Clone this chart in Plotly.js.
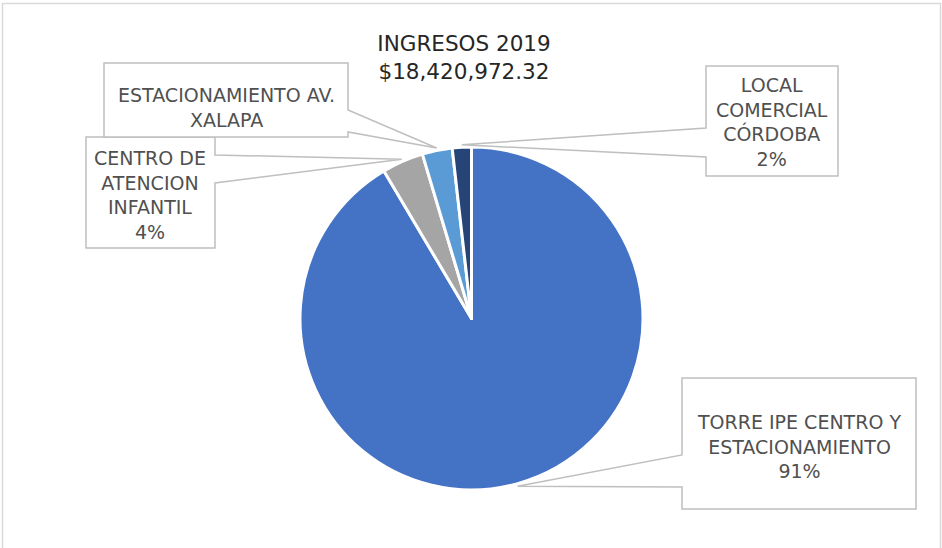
<!DOCTYPE html>
<html>
<head>
<meta charset="utf-8">
<script src="https://cdn.plot.ly/plotly-3.0.1.min.js"></script>
<style>html,body{margin:0;padding:0;background:#fff;}#chart{width:942px;height:548px;}</style>
</head>
<body>
<div id="chart"></div>
<script>
// ---- data ----
const categories = ["TORRE IPE CENTRO Y ESTACIONAMIENTO", "CENTRO DE ATENCION INFANTIL", "ESTACIONAMIENTO AV. XALAPA", "LOCAL COMERCIAL CÓRDOBA"];
const values = [16850000, 720000, 520000, 330972.32];
const labelLines = [
  ["TORRE IPE CENTRO Y", "ESTACIONAMIENTO"],
  ["CENTRO DE", "ATENCION", "INFANTIL"],
  ["ESTACIONAMIENTO AV.", "XALAPA"],
  ["LOCAL", "COMERCIAL", "CÓRDOBA"]
];
const showPct = [true, true, false, true];
const colors = ["#4472C4", "#A5A5A5", "#5B9BD5", "#264478"];
const titleLines = ["INGRESOS 2019", "$18,420,972.32"];

// ---- layout constants (pixels) ----
const W = 942, H = 548;
const cx = 471.5, cy = 318.5, R = 171.5;
// box: [x0,y0,x1,y1], side of pointer, pointer base y's, text centre
const boxes = [
  {b:[682,378,916,509], side:"left",  p:[455,487], t:[799,446]},
  {b:[86,137,215,248],  side:"right", p:[155,183], t:[150,195]},
  {b:[104,63,348,137],  side:"right", p:[110,132], t:[226,107]},
  {b:[706,66,838,176],  side:"left",  p:[128,157], t:[772,122]}
];
const drawOrder = [0, 1, 2, 3];

const fx = x => x / W;
const fy = y => 1 - y / H;

const total = values.reduce((a, b) => a + b, 0);
// tips at slice mid-angles (clockwise from 12 o'clock)
let cum = 0;
const tips = values.map(v => {
  const mid = (cum + v / 2) / total * 2 * Math.PI;
  cum += v;
  const rr = R + 2.5;
  return [cx + rr * Math.sin(mid), cy - rr * Math.cos(mid)];
});

const shapes = [{
  type: "path", xref: "paper", yref: "paper",
  path: `M ${fx(2.5)},${fy(548)} L ${fx(2.5)},${fy(3.5)} L ${fx(940.5)},${fy(3.5)} L ${fx(940.5)},${fy(548)}`,
  line: {color: "#d9d9d9", width: 1.5}, layer: "below"
}];
const annotations = [];
drawOrder.forEach(i => {
  const bx = boxes[i], [x0, y0, x1, y1] = bx.b, tp = tips[i];
  let pts;
  if (bx.side === "right") {
    pts = [[x0,y0],[x1,y0],[x1,bx.p[0]],tp,[x1,bx.p[1]],[x1,y1],[x0,y1]];
  } else {
    pts = [[x0,y0],[x1,y0],[x1,y1],[x0,y1],[x0,bx.p[1]],tp,[x0,bx.p[0]]];
  }
  const path = "M " + pts.map(p => fx(p[0]) + "," + fy(p[1])).join(" L ") + " Z";
  shapes.push({type: "path", xref: "paper", yref: "paper", path: path,
    fillcolor: "#ffffff", line: {color: "#bfbfbf", width: 1.5}, layer: "above"});
  const pct = Math.round(values[i] / total * 100) + "%";
  const lines = labelLines[i].concat(showPct[i] ? [pct] : []);
  annotations.push({
    xref: "paper", yref: "paper", x: fx(bx.t[0]), y: fy(bx.t[1]),
    xanchor: "center", yanchor: "middle", showarrow: false,
    text: lines.join("<br>"), align: "center",
    font: {family: "DejaVu Sans", size: 19, color: "#505050"}
  });
});

const trace = {
  type: "pie",
  labels: categories,
  values: values,
  sort: false,
  direction: "clockwise",
  rotation: 0,
  textinfo: "none",
  hoverinfo: "label+percent",
  marker: {colors: colors, line: {color: "#ffffff", width: 3}},
  domain: {x: [fx(cx - R), fx(cx + R)], y: [fy(cy + R), fy(cy - R)]}
};

const layout = {
  width: W, height: H,
  margin: {l: 0, r: 0, t: 0, b: 0},
  paper_bgcolor: "#ffffff",
  showlegend: false,
  title: {
    text: titleLines.join("<br>"),
    x: fx(464), xanchor: "center", xref: "paper",
    y: fy(51), yanchor: "middle", yref: "paper",
    font: {family: "DejaVu Sans", size: 21.5, color: "#262626"}
  },
  shapes: shapes,
  annotations: annotations
};

Plotly.newPlot("chart", [trace], layout, {displayModeBar: false, staticPlot: true});
</script>
</body>
</html>
